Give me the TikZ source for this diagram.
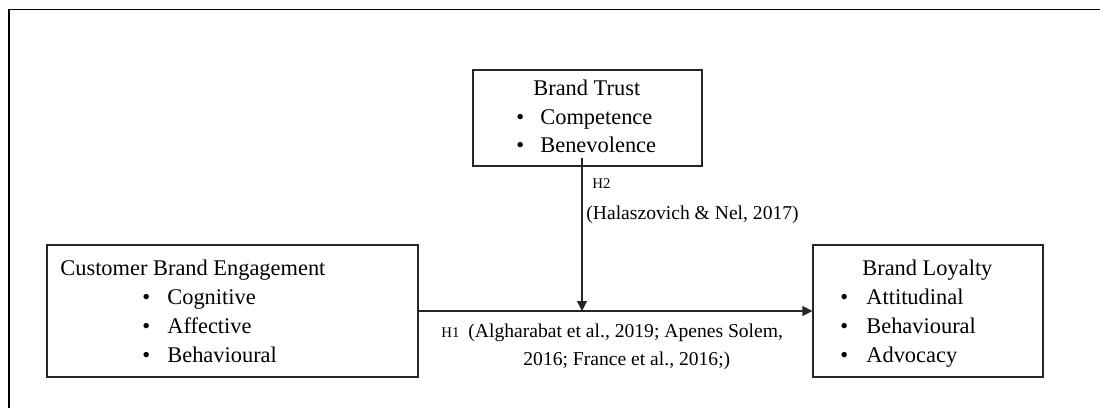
\documentclass[tikz,border=0pt]{standalone}
\usepackage{fontspec}
\setmainfont{Liberation Serif}
\usetikzlibrary{arrows.meta}
\begin{document}
\begin{tikzpicture}[x=0.5pt,y=-0.5pt,
  box/.style={draw=black!85, line width=0.6pt, inner sep=0pt, minimum width=#1},
  txt/.style={anchor=base west, inner sep=0pt, font=\fontsize{11.2}{13}\selectfont},
  small/.style={anchor=base west, inner sep=0pt, font=\fontsize{7.4}{9}\selectfont},
  cite/.style={anchor=base west, inner sep=0pt, font=\fontsize{9.8}{12}\selectfont},
  conn/.style={draw=black!85, line width=0.6pt, -{Triangle[length=5pt,width=5pt]}}]
\useasboundingbox (0,0) rectangle (1100,408);
% frame
\draw[line width=0.7pt] (9,408) -- (9,9.5) -- (1100,9.5);
% boxes
\node[box=229*0.5pt, minimum height=48pt] (bt) at (587.5,118) {};
\node[box=371*0.5pt, minimum height=66pt] (cbe) at (232.5,311) {};
\node[box=230*0.5pt, minimum height=66pt] (bl) at (928,311) {};
% Brand Trust texts
\node[txt] (btt) at (533,95) {Brand Trust};
\node[txt] (btb1) at (516,124) {•};
\node[txt] (btc) at (540,124) {Competence};
\node[txt] (btb2) at (516,152) {•};
\node[txt] (btv) at (540,152) {Benevolence};
% CBE texts
\node[txt] (cbet) at (60,275) {Customer Brand Engagement};
\node[txt] (cb1) at (142,304) {•};
\node[txt] (cbc) at (167,304) {Cognitive};
\node[txt] (cb2) at (142,333) {•};
\node[txt] (cba) at (167,333) {Affective};
\node[txt] (cb3) at (142,362) {•};
\node[txt] (cbb) at (167,362) {Behavioural};
% Brand Loyalty texts
\node[txt] (blt) at (862,275) {Brand Loyalty};
\node[txt] (bb1) at (840,304) {•};
\node[txt] (bla) at (866,304) {Attitudinal};
\node[txt] (bb2) at (840,333) {•};
\node[txt] (blb) at (866,333) {Behavioural};
\node[txt] (bb3) at (840,362) {•};
\node[txt] (blv) at (866,362) {Advocacy};
% connectors
\coordinate (h2s) at (582,158);
\coordinate (mid) at (582,311);
\draw[conn] (cbe.east) -- (bl.west);
\draw[conn] (h2s) -- (mid);
% labels
\node[small] (h2) at (592,188) {H2};
\node[cite] (h2c) at (586,219) {(Halaszovich \& Nel, 2017)};
\node[small] (h1) at (441,337) {H1};
\node[cite] (h1c1) at (468,337) {(Algharabat et al., 2019; Apenes Solem,};
\node[cite] (h1c2) at (523,365) {2016; France et al., 2016;)};
\end{tikzpicture}
\end{document}
